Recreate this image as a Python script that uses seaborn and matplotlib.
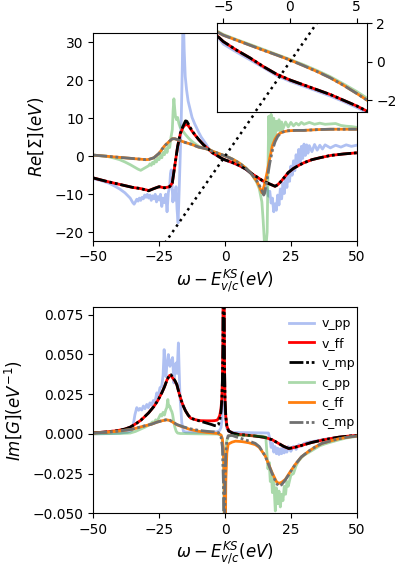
import matplotlib
matplotlib.use("Agg")
import matplotlib.pyplot as plt
import seaborn as sns
import numpy as np

# ---------------- Re[Sigma] (top panel) ----------------
sig_vx = [-50, -45, -40, -35, -32, -29, -27, -25, -23, -21, -20, -19, -18, -17, -16, -15, -14.5, -14, -13, -12,
          -10, -8, -7, -6, -5, -4, -3, -2, -1, 0, 1, 2, 3, 4, 5, 6, 8, 10, 12, 14, 16, 17, 18, 19, 20, 21, 22,
          24, 26, 28, 30, 33, 36, 40, 45, 50]
sig_v_mp = [-5.7, -6.6, -7.4, -8.2, -8.5, -9.1, -8.5, -8.0, -8.3, -8.0, -7.0, -2.2, 2.5, 6.0, 7.8, 9.3, 9.2, 8.6, 7.3, 6.2,
            4.4, 2.9, 2.3, 1.7, 1.05, 0.6, 0.2, -0.25, -0.65, -0.95, -1.2, -1.45, -1.7, -2.0, -2.3, -2.65, -3.4, -4.5, -5.4, -6.3, -7.0, -7.3, -7.6, -7.9, -7.5, -6.8, -6.0,
            -4.3, -3.2, -2.4, -1.7, -0.9, -0.4, 0.2, 0.6, 0.9]
sig_v_ff = [-5.7, -6.6, -7.4, -8.2, -8.5, -9.0, -8.5, -8.0, -8.3, -8.0, -7.0, -2.2, 2.5, 5.8, 7.5, 8.4, 8.3, 8.1, 7.1, 6.1,
            4.4, 2.9, 2.3, 1.7, 1.05, 0.6, 0.2, -0.25, -0.65, -0.95, -1.2, -1.45, -1.7, -2.0, -2.3, -2.65, -3.4, -4.5, -5.4, -6.3, -7.0, -7.3, -7.6, -7.9, -7.5, -6.8, -6.0,
            -4.3, -3.2, -2.4, -1.7, -0.9, -0.4, 0.2, 0.6, 0.9]

sig_cx = [-50, -45, -40, -35, -30, -29, -27, -25, -23, -21, -20, -19, -17, -15, -13, -10, -8, -6, -5, -4, -3, -2, -1,
          0, 1, 2, 3, 4, 5, 6, 8, 10, 12, 13, 14, 14.7, 15, 16, 17, 18, 19, 20, 21, 22, 24, 27, 30, 35, 40, 45, 50]
sig_c_mp = [0.3, 0.0, -0.3, -0.6, -0.9, -0.85, -0.4, 0.8, 2.7, 4.0, 4.6, 4.6, 4.1, 3.6, 3.2, 2.4, 2.1, 1.75, 1.38, 1.12, 0.86, 0.6, 0.35,
            0.09, -0.2, -0.5, -0.83, -1.22, -1.65, -2.1, -3.2, -4.6, -6.4, -7.6, -9.0, -10.2, -9.8, -6.0, -1.8, 1.6, 3.8, 5.2, 6.0, 6.4, 6.7, 6.8, 6.8, 7.0, 7.1, 7.1, 7.1]
sig_c_ff = [0.3, 0.0, -0.3, -0.6, -0.9, -0.85, -0.4, 0.8, 2.7, 4.0, 4.6, 4.6, 4.1, 3.6, 3.2, 2.4, 2.1, 1.75, 1.38, 1.12, 0.86, 0.6, 0.35,
            0.09, -0.2, -0.5, -0.83, -1.22, -1.65, -2.1, -3.2, -4.6, -6.5, -7.9, -9.6, -8.2, -7.4, -4.2, -0.5, 2.8, 4.5, 5.6, 6.1, 6.4, 6.7, 6.8, 6.8, 7.0, 7.1, 7.1, 7.1]

sig_vpp_x = [-50, -47, -44, -42, -40, -38, -36, -35, -34.5, -34, -33.5, -33, -32.5, -32, -31.5, -31, -30.5, -30, -29.5, -29,
             -28.5, -28, -27.5, -27, -26.5, -26, -25.5, -25, -24.5, -24, -23.5, -23, -22.5, -22, -21.5, -21, -20.7, -20.4,
             -20.1, -19.8, -19.4, -19, -18.6, -18.2, -17.8, -17.4, -17.0, -16.6, -16.2, -15.9, -15.5, -15.1, -14.6, -14,
             -13.3, -12.5, -11.5, -10.8, -10, -9, -8, -7, -6, -5, -4, -3, -2, -1, 0, 1, 2, 3, 4, 5, 6, 8, 10, 12, 14, 15,
             16, 16.5, 17, 17.5, 18, 18.5, 19, 19.5, 20, 20.5, 21, 21.5, 22, 22.5, 23, 23.5, 24, 24.5, 25, 25.5, 26, 26.5,
             27, 27.5, 28, 28.5, 29, 29.5, 30, 30.5, 31, 31.5, 32, 33, 34, 35, 36, 37, 38, 40, 42, 44, 46, 48, 50]
sig_v_pp = [-5.9, -6.4, -7.1, -7.8, -8.6, -9.6, -11.0, -12.2, -12.6, -12.0, -11.3, -11.8, -11.0, -11.6, -10.8, -11.2, -10.2, -10.8, -10.0, -11.0,
            -10.2, -11.6, -10.4, -11.2, -10.0, -12.0, -10.6, -11.5, -10.0, -13.2, -11.0, -12.2, -10.0, -14.6, -9.5, -8.0, -4.5, -3.6,
            -7.5, -12.0, -9.0, -11.5, -8.0, -14.0, -17.5, -9.0, 0.0, 10.0, 24.0, 40.0, 28.0, 21.0, 17.5, 14.5,
            12.5, 10.2, 8.5, 7.5, 6.3, 5.0, 4.0, 3.0, 1.8, 0.92, 0.5, 0.1, -0.3, -0.72, -1.02, -1.27, -1.52, -1.78, -2.07, -2.38, -2.72, -3.5, -4.6, -5.5, -6.4, -7.0,
            -8.6, -10.5, -9.2, -12.3, -11.0, -14.6, -12.5, -14.2, -10.2, -12.8, -8.6, -11.2, -7.0, -9.8, -5.6, -8.2, -4.2, -6.6, -2.6, -5.0, -1.2, -3.8,
            0.4, -2.6, 1.8, -1.5, 2.6, -0.6, 3.2, 0.2, 3.0, 0.8, 2.8, 1.2, 3.1, 1.6, 2.9, 1.9, 3.0, 2.2, 2.9, 2.4, 3.0, 2.6, 2.9]

sig_cpp_x = [-50, -45, -42, -40, -38, -36, -34, -33, -32, -31, -30, -29, -28.5, -28, -27.5, -27, -26.5, -26, -25.5, -25,
             -24.5, -24, -23.5, -23, -22.5, -22, -21.5, -21, -20.5, -20, -19.7, -19.4, -19.1, -18.8, -18.4, -18, -17.5, -17,
             -16, -15, -14, -13, -12, -10, -8, -6, -5, -4, -3, -2, -1, 0, 1, 2, 3, 4, 5, 6, 8, 10, 12, 13, 14, 14.5, 15,
             15.5, 16, 16.3, 16.6, 16.9, 17.2, 17.5, 17.8, 18.2, 18.5, 19, 19.5, 20, 20.5, 21, 21.5, 22, 23, 24, 25, 26, 27,
             28, 29, 30, 32, 34, 36, 38, 40, 42, 44, 46, 48, 50]
sig_c_pp = [0.3, 0.0, -0.5, -0.9, -1.5, -2.2, -3.0, -3.4, -3.7, -3.3, -2.9, -2.5, -2.0, -2.4, -1.6, -2.0, -1.0, -1.5, -0.4, -0.9,
            0.4, -0.4, 1.0, 0.4, 2.0, 1.0, 3.0, 2.3, 5.0, 7.0, 12.0, 15.1, 12.5, 10.4, 9.6, 10.2, 8.6, 7.6,
            6.6, 5.7, 4.9, 4.2, 3.6, 2.6, 2.15, 1.8, 1.42, 1.15, 0.9, 0.64, 0.38, 0.12, -0.15, -0.45, -0.77, -1.15, -1.55, -2.0, -3.1, -4.6, -6.8, -8.5, -12.0, -17.0, -23.0,
            -24.0, -20.0, -5.0, 10.5, 4.0, 1.6, 11.0, 6.0, 3.0, 10.0, 5.0, 9.2, 6.8, 9.6, 6.5, 9.0, 7.2, 9.0, 7.7, 8.9, 8.0, 8.7,
            8.2, 8.9, 8.4, 8.9, 8.4, 8.7, 8.4, 8.5, 8.6, 8.1, 7.9, 7.8, 7.6]

diag_x = [-50, 50]
diag_y = [-50, 50]

# ---------------- Im[G] (bottom panel) ----------------
g_vx = [-50, -45, -41, -38, -36, -34, -32, -31, -29, -27, -25.5, -24, -23, -22, -21, -20.5, -20, -19, -18.3, -17.5, -16.5,
        -15.8, -15, -14, -13, -11, -9.5, -7, -5, -4, -3, -2.5, -2, -1.5, -1.2, -1, -0.8, -0.6, -0.5, -0.4, -0.2, 0, 0.3,
        0.7, 1.4, 3, 5.2, 8, 11.5, 15, 17.9, 20, 22.3, 24.2, 26, 28, 30.5, 33, 36.8, 40, 43.2, 47, 50]
g_v_mp = [0.0006, 0.0012, 0.002, 0.003, 0.0042, 0.0062, 0.0085, 0.010, 0.0132, 0.0172, 0.021, 0.0258, 0.0295, 0.034, 0.0372, 0.0372, 0.0358, 0.0335, 0.031, 0.026, 0.0205,
          0.0174, 0.0145, 0.0118, 0.0098, 0.0088, 0.0080, 0.0068, 0.0058, 0.0052, 0.0050, 0.0058, 0.0085, 0.014, 0.022, 0.032, 0.055, 0.12, 0.2, 0.12, 0.045, 0.022, 0.011,
          0.005, 0.0018, 0.0004, -0.0004, -0.0008, -0.0014, -0.0022, -0.0037, -0.0057, -0.0079, -0.0092, -0.0087, -0.0078, -0.0066, -0.0054, -0.0040, -0.0030, -0.0021, -0.0014, -0.0010]
g_v_ff = [0.0006, 0.0012, 0.002, 0.003, 0.0042, 0.0062, 0.0085, 0.010, 0.0132, 0.0172, 0.021, 0.0258, 0.0295, 0.034, 0.0368, 0.0366, 0.0354, 0.0332, 0.031, 0.026, 0.0205,
          0.0174, 0.0145, 0.0118, 0.0098, 0.0088, 0.0083, 0.0082, 0.0082, 0.0083, 0.0086, 0.0097, 0.0115, 0.016, 0.023, 0.033, 0.055, 0.12, 0.2, 0.12, 0.045, 0.022, 0.011,
          0.005, 0.0018, 0.0004, -0.0004, -0.0008, -0.0014, -0.0022, -0.0037, -0.0057, -0.0079, -0.0092, -0.0087, -0.0078, -0.0066, -0.0054, -0.0040, -0.0030, -0.0021, -0.0014, -0.0010]

g_cx = [-50, -45, -40, -35, -31, -28, -25.9, -24, -22.1, -21, -20, -18.3, -16, -13.3, -10, -7, -4, -2.5, -1.5, -1.0,
        -0.6, -0.3, 0, 0.3, 0.7, 1.2, 2.7, 4, 6.5, 9, 11.5, 13, 15.3, 17.9, 19.5, 20.4, 21.5, 22.9, 24.5, 26.7, 29,
        31.8, 34, 36.8, 40, 43.2, 47, 50]
g_c_mp = [0.0005, 0.001, 0.0018, 0.003, 0.0048, 0.006, 0.0073, 0.0082, 0.009, 0.0086, 0.0077, 0.0059, 0.0045, 0.0032, 0.0022, 0.0016, 0.0012, 0.0008, -0.002, -0.008,
          -0.03, -0.1, -0.035, -0.012, -0.004, -0.0012, -0.001, -0.0018, -0.0031, -0.0045, -0.006, -0.008, -0.014, -0.025, -0.031, -0.0329, -0.032, -0.029, -0.025, -0.0192, -0.0145,
          -0.0109, -0.0085, -0.006, -0.0045, -0.0031, -0.002, -0.0014]
g_c_ff = [0.0005, 0.001, 0.0018, 0.003, 0.0048, 0.006, 0.0073, 0.0082, 0.0088, 0.0084, 0.0075, 0.0057, 0.0043, 0.0028, 0.0016, 0.0009, 0.0004, 0.0002, -0.0008, -0.003,
          -0.01, -0.03, -0.1, -0.03, -0.012, -0.0065, -0.0052, -0.0046, -0.0049, -0.0056, -0.0068, -0.0085, -0.014, -0.0245, -0.030, -0.0312, -0.0305, -0.0287, -0.0245, -0.0192, -0.0145,
          -0.0109, -0.0085, -0.006, -0.0045, -0.0031, -0.002, -0.0014]

g_vpp_x = [-50, -44, -40, -37, -35.5, -34.8, -34.2, -33.5, -32.8, -32.3, -31.6, -31, -30.4, -29.7, -29.1, -28.5, -27.9, -27.2,
           -26.6, -25.9, -25.3, -24.7, -24.0, -23.5, -23.1, -22.8, -22.4, -22.0, -21.5, -21.2, -20.9, -20.4, -19.9, -19.4,
           -19.0, -18.6, -18.2, -17.7, -17.4, -17.1, -16.4, -15.8, -15, -10, -5, -3, -2, -1.5, -1.2, -1, -0.8, -0.6, -0.5,
           -0.4, -0.2, 0, 0.3, 0.7, 1.4, 3, 6, 10, 14, 16.5, 17, 17.5, 18, 18.5, 19, 19.5, 20, 20.5, 21, 21.5, 22, 22.5,
           23, 23.5, 24, 25, 26, 27, 28, 29, 30, 32, 35, 38, 42, 46, 50]
g_v_pp = [0.0, 0.0002, 0.0005, 0.001, 0.002, 0.006, 0.012, 0.0165, 0.0148, 0.0160, 0.0150, 0.0175, 0.0158, 0.0185, 0.0165, 0.0195, 0.018, 0.021,
          0.0198, 0.0258, 0.024, 0.029, 0.0300, 0.037, 0.053, 0.040, 0.036, 0.045, 0.0499, 0.044, 0.0425, 0.046, 0.048, 0.032,
          0.040, 0.0446, 0.038, 0.0572, 0.040, 0.0237, 0.007, 0.0017, 0.0012, 0.001, 0.0011, 0.0013, 0.0022, 0.004, 0.008, 0.015, 0.04, 0.12, 0.25,
          0.12, 0.04, 0.018, 0.008, 0.0035, 0.0015, 0.0009, 0.0008, 0.0007, 0.0006, 0.0005, -0.003, -0.0085, -0.006, -0.0115, -0.008, -0.0125, -0.009, -0.013, -0.0095, -0.0125, -0.0085, -0.012,
          -0.009, -0.0115, -0.008, -0.011, -0.0078, -0.0098, -0.0068, -0.0078, -0.006, -0.0052, -0.0044, -0.0034, -0.0025, -0.0017, -0.001]

g_cpp_x = [-50, -40, -36, -34, -32, -30, -28.5, -27.5, -27, -26.3, -25.7, -25, -24.5, -24, -23.5, -23, -22.5, -22.1, -21.7,
           -21.4, -21, -20.6, -20.2, -19.9, -19.4, -19, -18.5, -18, -17, -10, -3, -1.5, -1, -0.6, -0.4, -0.2, 0, 0.3, 0.7,
           1.5, 5, 10, 14, 15.5, 15.9, 16.3, 16.8, 17.2, 17.6, 18, 18.5, 19.1, 19.5, 20, 20.5, 21, 21.5, 22, 22.5, 23, 23.5,
           24, 25, 26, 27, 28, 29, 30, 32, 34, 36, 38, 40, 43, 46, 50]
g_c_pp = [0.0, 0.0002, 0.0005, 0.0015, 0.003, 0.0045, 0.006, 0.0075, 0.0068, 0.0088, 0.0080, 0.0105, 0.0122, 0.0112, 0.0135, 0.0118, 0.0150, 0.0165, 0.0216,
          0.017, 0.0175, 0.0153, 0.014, 0.0122, 0.007, 0.004, 0.0015, 0.0005, 0.0002, 0.0, -0.0001, -0.0008, -0.004, -0.015, -0.04, -0.12, -0.05, -0.012, -0.004,
          -0.0012, -0.001, -0.0012, -0.0015, -0.002, -0.012, -0.022, -0.018, -0.030, -0.024, -0.037, -0.029, -0.0485, -0.034, -0.044, -0.036, -0.046, -0.038, -0.042, -0.033, -0.038, -0.030,
          -0.033, -0.026, -0.025, -0.020, -0.017, -0.015, -0.0135, -0.0115, -0.0095, -0.0075, -0.0063, -0.0053, -0.0039, -0.0026, -0.0016]

# ---------------- styling ----------------
MP_LS = (0, (5, 1, 1, 1, 1, 1))
C_VPP = (0.255, 0.412, 0.882, 0.42)
C_CPP = (0.173, 0.627, 0.173, 0.40)
C_VFF = "#ff0000"
C_CFF = "#ff7f0e"
C_VMP = "black"
C_CMP = "#707070"


def draw(ax, x, y, color, ls="-", lw=2.0, label=None):
    sns.lineplot(x=x, y=y, ax=ax, color=color, linestyle=ls, linewidth=lw, sort=False,
                 estimator=None, errorbar=None, label=label)


def draw_sigma(ax):
    draw(ax, sig_vpp_x, sig_v_pp, C_VPP)
    draw(ax, sig_cpp_x, sig_c_pp, C_CPP)
    draw(ax, sig_vx, sig_v_ff, C_VFF)
    draw(ax, sig_cx, sig_c_ff, C_CFF)
    draw(ax, sig_vx, sig_v_mp, C_VMP, MP_LS)
    draw(ax, sig_cx, sig_c_mp, C_CMP, MP_LS)
    draw(ax, diag_x, diag_y, "black", ":", 1.8)


W, H = 399, 577
fig = plt.figure(figsize=(W / 100, H / 100), dpi=100)

ax1 = fig.add_axes([93.3 / W, 1 - 240.7 / H, 263.4 / W, 207.7 / H])
draw_sigma(ax1)
ax1.set_xlim(-50, 50)
ax1.set_ylim(-22.2, 32.4)
ax1.set_xticks([-50, -25, 0, 25, 50])
ax1.set_yticks([-20, -10, 0, 10, 20, 30])
ax1.set_xlabel(r"$\omega - E^{KS}_{v/c}(eV)$", fontsize=12, labelpad=2)
ax1.set_ylabel(r"$Re[\Sigma](eV)$", fontsize=12, labelpad=6)

axin = fig.add_axes([217.3 / W, 1 - 111.7 / H, 149.4 / W, 88.4 / H])
draw_sigma(axin)
axin.set_xlim(-5.45, 5.75)
axin.set_ylim(-2.6, 2.0)
axin.set_xticks([-5, 0, 5])
axin.set_yticks([-2, 0, 2])
axin.xaxis.tick_top()
axin.yaxis.tick_right()
axin.set_xlabel("")
axin.set_ylabel("")
axin.set_facecolor("white")

ax2 = fig.add_axes([93.3 / W, 1 - 513.3 / H, 263.4 / W, 206.6 / H])
draw(ax2, g_vpp_x, g_v_pp, C_VPP, label="v_pp")
draw(ax2, g_vx, g_v_ff, C_VFF, label="v_ff")
draw(ax2, g_vx, g_v_mp, C_VMP, MP_LS, label="v_mp")
draw(ax2, g_cpp_x, g_c_pp, C_CPP, label="c_pp")
draw(ax2, g_cx, g_c_ff, C_CFF, label="c_ff")
draw(ax2, g_cx, g_c_mp, C_CMP, MP_LS, label="c_mp")
ax2.set_xlim(-50, 50)
ax2.set_ylim(-0.05, 0.08)
ax2.set_xticks([-50, -25, 0, 25, 50])
ax2.set_yticks([-0.05, -0.025, 0.0, 0.025, 0.05, 0.075])
ax2.set_xlabel(r"$\omega - E^{KS}_{v/c}(eV)$", fontsize=12, labelpad=2)
ax2.set_ylabel(r"$Im[G](eV^{-1})$", fontsize=12, labelpad=6)
ax2.legend(loc="upper right", bbox_to_anchor=(1.036, 1.005), frameon=False, fontsize=9,
           handlelength=2.0, handletextpad=0.6, labelspacing=0.55)

fig.savefig("out.png", dpi=100)
